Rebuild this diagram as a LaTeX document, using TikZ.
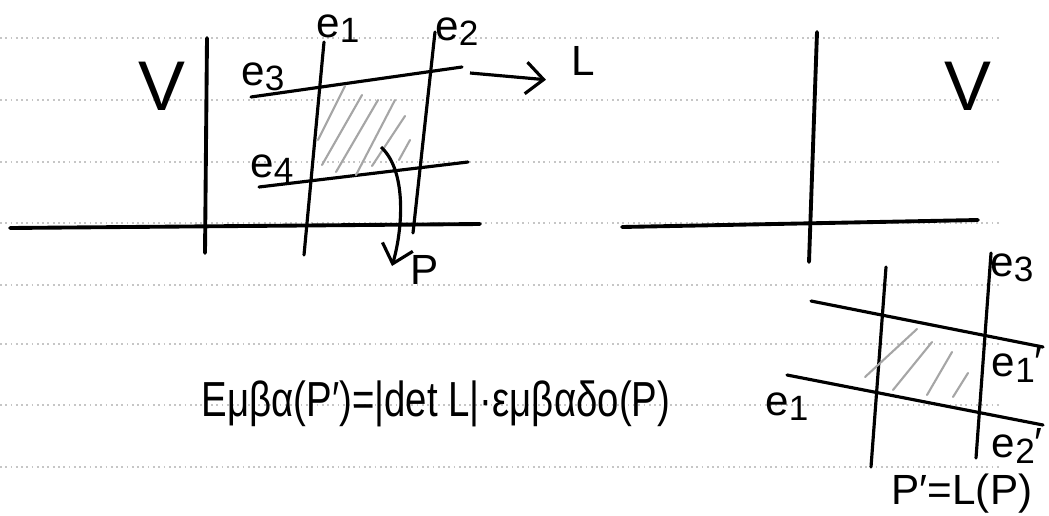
\documentclass[tikz,border=0pt]{standalone}
\usepackage{fontspec}
\setmainfont{Liberation Sans}
\usetikzlibrary{arrows.meta,positioning}
\newcommand{\vecname}[2]{e\raisebox{-1.5pt}{\fontsize{10}{10}\selectfont #1}#2}
\tikzset{
    axisline/.style={line width=1.1pt, black, line cap=round},
    basisline/.style={line width=0.9pt, black, line cap=round},
    hatchline/.style={line width=0.6pt, gray!70, line cap=round},
    ruleline/.style={line width=0.5pt, gray!45, densely dotted},
    maparrow/.style={
        line width=0.9pt,
        black,
        ->,
        >={Straight Barb[length=5pt, width=9pt]}
    },
    veclabel/.style={font=\fontsize{12}{12}\selectfont, inner sep=1pt},
    spacelabel/.style={font=\fontsize{20}{20}\selectfont, inner sep=1pt}
}

\begin{document}
\begin{tikzpicture}[x=0.01cm,y=-0.01cm]
	\useasboundingbox (0,0) rectangle (1049,515);
	
	% ruled paper
	\foreach \y in {38,100,162,223,285,344,405,467}
	\draw[ruleline] (0,\y) -- (1000,\y);
	
	\path
	(10,228) coordinate (x1)
	(480,224) coordinate (x2)
	(207,38) coordinate (y1)
	(205,253) coordinate (y2)
	(622,227) coordinate (x3)
	(978,220) coordinate (x4)
	(817,32) coordinate (y3)
	(809,262) coordinate (y4);
	
	% axes
	\draw[axisline] (x1) -- (x2);
	\draw[axisline] (y1) -- (y2);
	\draw[axisline] (x3) -- (x4);
	\draw[axisline] (y3) -- (y4);
	
	% left: P
	\draw[basisline] (324,42) -- (304,255);
	\draw[basisline] (435,32) -- (413,233);
	\draw[basisline] (251,97) -- (462,67);
	\draw[basisline] (259,187) -- (468,162);
	\foreach \xa/\ya/\xb/\yb in {318/140/345/86, 322/165/362/95, 336/172/378/100,
		356/175/395/100, 372/166/405/116, 399/160/410/140}
	\draw[hatchline] (\xa,\ya) -- (\xb,\yb);
	
	% right: P'
	\draw[basisline] (886,267) -- (871,467);
	\draw[basisline] (991,253) -- (976,458);
	\draw[basisline] (811,301) -- (1043,347);
	\draw[basisline] (787,375) -- (1043,425);
	\foreach \xa/\ya/\xb/\yb in {865/377/917/329, 893/390/932/342,
		927/395/952/352, 953/397/968/373}
	\draw[hatchline] (\xa,\ya) -- (\xb,\yb);
	
	% labels
	\node[spacelabel] (V1) at (162,86) {V};
	\node[spacelabel] (V2) at (968,86) {V};
	\node[veclabel] (e1) at (338,29) {\vecname{1}{}};
	\node[veclabel] (e2) at (457,32) {\vecname{2}{}};
	\node[veclabel] (e3) at (263,77) {\vecname{3}{}};
	\node[veclabel] (e4) at (272,169) {\vecname{4}{}};
	\node[veclabel] (L) at (583,61) {L};
	\node[veclabel] (P) at (425,270) {P};
	\node[veclabel] (f3) at (1012,268) {\vecname{3}{}};
	\node[veclabel, anchor=east] (f1) at (1047,365) {\vecname{1}{′}};
	\node[veclabel, anchor=east] (f2) at (1047,446) {\vecname{2}{′}};
	\node[veclabel] (g1) at (787,407) {\vecname{1}{}};
	\node[veclabel] (PL) at (962,494) {P′=L(P)};
	\node[font=\fontsize{14}{14}\selectfont] (area) at (436,404)
		{\scalebox{0.78}[1]{Εμβα(P′)=|det L|·εμβαδο(P)}};
	
	% arrows
	\coordinate (lstart) at (470,73);
	\coordinate (pstart) at (381,147);
	\draw[maparrow] (lstart) -- ([xshift=-6]L.south west);
	\draw[maparrow] (pstart) .. controls (408,172) and (402,232) .. (392,266);
\end{tikzpicture}
\end{document}
